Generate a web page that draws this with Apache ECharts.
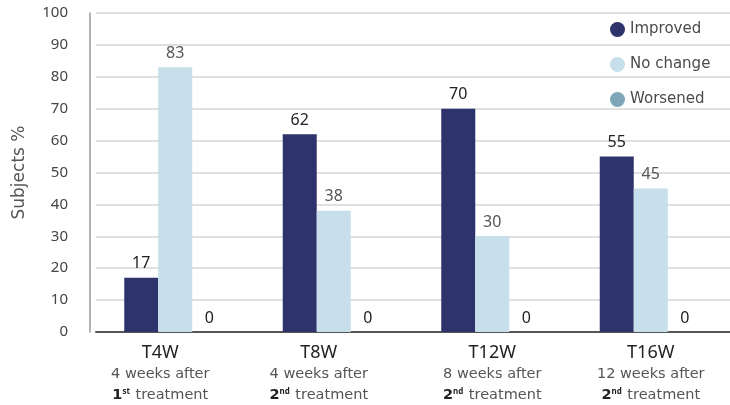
<!DOCTYPE html>
<html>
<head>
<meta charset="utf-8">
<script src="https://cdn.jsdelivr.net/npm/echarts@6/dist/echarts.min.js"></script>
<style>
  html, body { margin: 0; padding: 0; background: #ffffff; }
  #chart { width: 730px; height: 405px; }
</style>
</head>
<body>
<div id="chart"></div>
<script>
// Time points and the lines of text under each one
const categories = ['T4W', 'T8W', 'T12W', 'T16W'];
const subLines = ['4 weeks after', '4 weeks after', '8 weeks after', '12 weeks after'];
const treatmentNumber = ['1', '2', '2', '2'];
const treatmentSuffix = ['st', 'nd', 'nd', 'nd'];

// Share of subjects (%) per outcome
const improved = [17, 62, 70, 55];
const noChange = [83, 38, 30, 45];
const worsened = [0, 0, 0, 0];

const yTicks = { min: 0, max: 100, interval: 10 };

const chart = echarts.init(document.getElementById('chart'));
const font = '"Noto Sans", Lato, sans-serif';
const wideFont = '"DejaVu Sans", "Noto Sans", sans-serif';

// the first two captions sit a little left of their bar groups
const captionShift = [30, 30, 0, 0];

function barSeries(name, data, color, labelColor) {
  return {
    name: name,
    type: 'bar',
    data: data,
    barWidth: 34,
    barGap: '0%',
    itemStyle: { color: color },
    label: {
      show: true,
      position: 'top',
      distance: 6,
      fontFamily: font,
      fontSize: 16,
      color: labelColor
    }
  };
}

chart.setOption({
  animation: false,
  backgroundColor: '#ffffff',
  grid: { left: 96, right: -6, top: 13, bottom: 73 },
  legend: {
    orient: 'vertical',
    left: 605,
    top: 14,
    itemGap: 14,
    icon: 'circle',
    itemWidth: 15,
    itemHeight: 15,
    textStyle: { fontFamily: wideFont, fontSize: 15, color: '#4a4a4a', lineHeight: 21 },
    data: ['Improved', 'No change', 'Worsened']
  },
  xAxis: {
    type: 'category',
    data: categories.map(function (c, i) {
      return { value: c, textStyle: { padding: [0, captionShift[i], 0, 0] } };
    }),
    axisLine: { lineStyle: { color: '#555555', width: 2 } },
    axisTick: { show: false },
    axisLabel: {
      interval: 0,
      margin: 10,
      formatter: function (value, idx) {
        return '{t|' + value + '}\n{s|' + subLines[idx] + '}\n{n|' +
          treatmentNumber[idx] + '}{sup|' + treatmentSuffix[idx] + '}{s| treatment}';
      },
      rich: {
        t: { fontFamily: font, fontSize: 18, color: '#222222', lineHeight: 22 },
        s: { fontFamily: wideFont, fontSize: 14.5, color: '#555555', lineHeight: 21 },
        n: { fontFamily: wideFont, fontSize: 14.5, color: '#222222', fontWeight: 'bold', lineHeight: 21 },
        sup: { fontFamily: font, fontSize: 8, color: '#222222', fontWeight: 'bold', verticalAlign: 'top', lineHeight: 21, padding: [3, 1, 0, 0] }
      }
    }
  },
  yAxis: {
    type: 'value',
    min: yTicks.min,
    max: yTicks.max,
    interval: yTicks.interval,
    offset: 6,
    name: 'Subjects %',
    nameLocation: 'middle',
    nameGap: 62,
    nameTextStyle: { fontFamily: wideFont, fontSize: 17, color: '#555555' },
    axisLine: { show: true, lineStyle: { color: '#9a9a9a', width: 1.5 } },
    axisTick: { show: false },
    axisLabel: { fontFamily: font, fontSize: 15, color: '#444444', margin: 22 },
    splitLine: { lineStyle: { color: '#d6d6d6', width: 1.5 } }
  },
  series: [
    barSeries('Improved', improved, '#2e336b', '#222222'),
    barSeries('No change', noChange, '#c6dfea', '#555555'),
    barSeries('Worsened', worsened, '#7ea6b9', '#222222')
  ]
});
</script>
</body>
</html>
